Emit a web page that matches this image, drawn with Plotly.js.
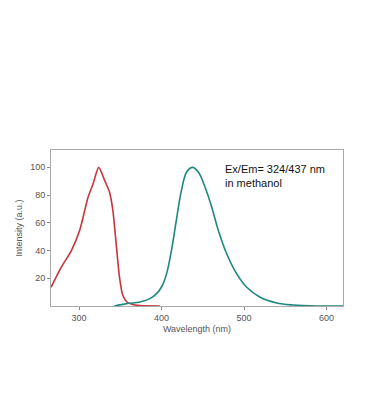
<!DOCTYPE html>
<html><head><meta charset="utf-8">
<script src="https://cdn.plot.ly/plotly-3.0.1.min.js"></script>
<style>html,body{margin:0;padding:0;background:#fff;}#chart{width:367px;height:420px;}</style>
</head><body><div id="chart"></div>
<script>
const exWavelength = [266, 278.5, 290.7, 300.8, 311, 317, 323.8, 331, 337, 341, 345, 349, 353, 358, 364, 374, 398];
const exIntensity  = [13.5, 28, 40, 54.6, 78.6, 88, 100, 90.6, 82, 69, 45, 21, 7.7, 2.9, 1.2, 0.3, 0];
const emWavelength = [342.8, 357.8, 374, 386, 394, 400, 406, 412, 418, 424, 430.5, 437.5, 444.6, 452.7, 460.8, 468.9, 479, 491, 503, 519, 539.6, 559.8, 588, 620];
const emIntensity  = [0, 1.7, 2.9, 5.3, 8.9, 13.7, 23, 40, 62, 83, 96.6, 100, 96.6, 85.8, 71.4, 54.5, 37.7, 23.3, 13.7, 6.5, 2.2, 0.7, 0, 0];
const xTicks = [300, 400, 500, 600];
const yTicks = [20, 40, 60, 80, 100];

const font = {family: 'Liberation Sans, Arial, sans-serif', color: '#555', size: 9};
const data = [
  {x: exWavelength, y: exIntensity, type: 'scatter', mode: 'lines', line: {color: '#c8343c', width: 1.6, shape: 'spline', smoothing: 0.7}, showlegend: false, hoverinfo: 'none'},
  {x: emWavelength, y: emIntensity, type: 'scatter', mode: 'lines', line: {color: '#1e877e', width: 1.6, shape: 'spline'}, showlegend: false, hoverinfo: 'none'}
];
const layout = {
  width: 367, height: 420,
  margin: {l: 51, r: 24, t: 150, b: 114},
  paper_bgcolor: '#fff', plot_bgcolor: '#fff',
  font: font,
  xaxis: {range: [266, 620], tickvals: xTicks, ticktext: xTicks.map(String), showgrid: false, zeroline: false,
    showline: true, mirror: true, linecolor: '#aaa', linewidth: 1, ticks: 'outside', ticklen: 3, tickcolor: '#888',
    tickfont: font, title: {text: 'Wavelength (nm)', font: font, standoff: 3}},
  yaxis: {range: [0, 112.5], tickvals: yTicks, ticktext: yTicks.map(String), showgrid: false, zeroline: false,
    showline: true, mirror: true, linecolor: '#aaa', linewidth: 1, ticks: 'outside', ticklen: 3, tickcolor: '#888',
    tickfont: font, title: {text: 'Intensity (a.u.)', font: font, standoff: 6}},
  annotations: [{xref: 'paper', yref: 'paper', x: 0.59, y: 0.93, xanchor: 'left', yanchor: 'top', align: 'left', showarrow: false,
    text: 'Ex/Em= 324/437 nm<br>in methanol', font: {family: 'Liberation Sans, Arial, sans-serif', size: 11, color: '#111'}}]
};
Plotly.newPlot('chart', data, layout, {staticPlot: true, displayModeBar: false});
</script></body></html>
